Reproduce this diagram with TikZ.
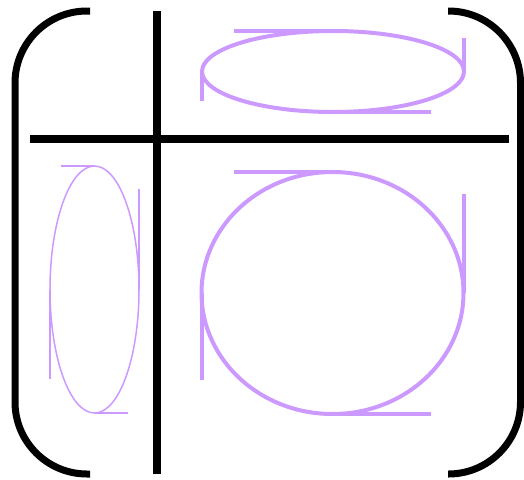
\documentclass[tikz,border=0pt]{standalone}
\usepackage{tikz}
\definecolor{lilac}{RGB}{204,153,255}

\begin{document}
\begin{tikzpicture}[x=1pt, y=-1pt,
    bracket/.style={line width=7pt, rounded corners=72pt},
    rule/.style={line width=8pt},
    ovalthick/.style={draw=lilac, line width=4pt},
    ovalthin/.style={draw=lilac, line width=1.5pt}]
  \useasboundingbox (0,0) rectangle (524,479);
  % parentesis
  \draw[bracket] (90,11) -- (15,11) -- (15,474) -- (90,474);
  \draw[bracket] (448,11) -- (520.5,11) -- (520.5,474) -- (448,474);
  % cruz
  \draw[rule] (157,11) -- (157,474);
  \draw[rule] (30,139) -- (509,139);
  % elipse superior
  \coordinate (e1) at (333,71.5);
  \draw[ovalthick] (e1) ellipse [x radius=131, y radius=40.5];
  \draw[ovalthick] (234,31) -- (e1 |- 0,31);
  \draw[ovalthick] (464,38) -- (464,71.5);
  \draw[ovalthick] (e1 |- 0,112) -- (431,112);
  \draw[ovalthick] (202,71.5) -- (202,101);
  % circulo grande
  \coordinate (e2) at (332.5,293);
  \draw[ovalthick] (e2) ellipse [x radius=131, y radius=121];
  \draw[ovalthick] (234,172) -- (e2 |- 0,172);
  \draw[ovalthick] (463.5,194) -- (463.5,293);
  \draw[ovalthick] (e2 |- 0,414) -- (431,414);
  \draw[ovalthick] (201.5,293) -- (201.5,380);
  % elipse izquierda
  \coordinate (e3) at (94.5,289.5);
  \draw[ovalthin] (e3) ellipse [x radius=44.5, y radius=123.5];
  \draw[ovalthin] (61,166) -- (e3 |- 0,166);
  \draw[ovalthin] (139,189) -- (139,289.5);
  \draw[ovalthin] (e3 |- 0,413) -- (128,413);
  \draw[ovalthin] (50,289.5) -- (50,379);
\end{tikzpicture}
\end{document}
